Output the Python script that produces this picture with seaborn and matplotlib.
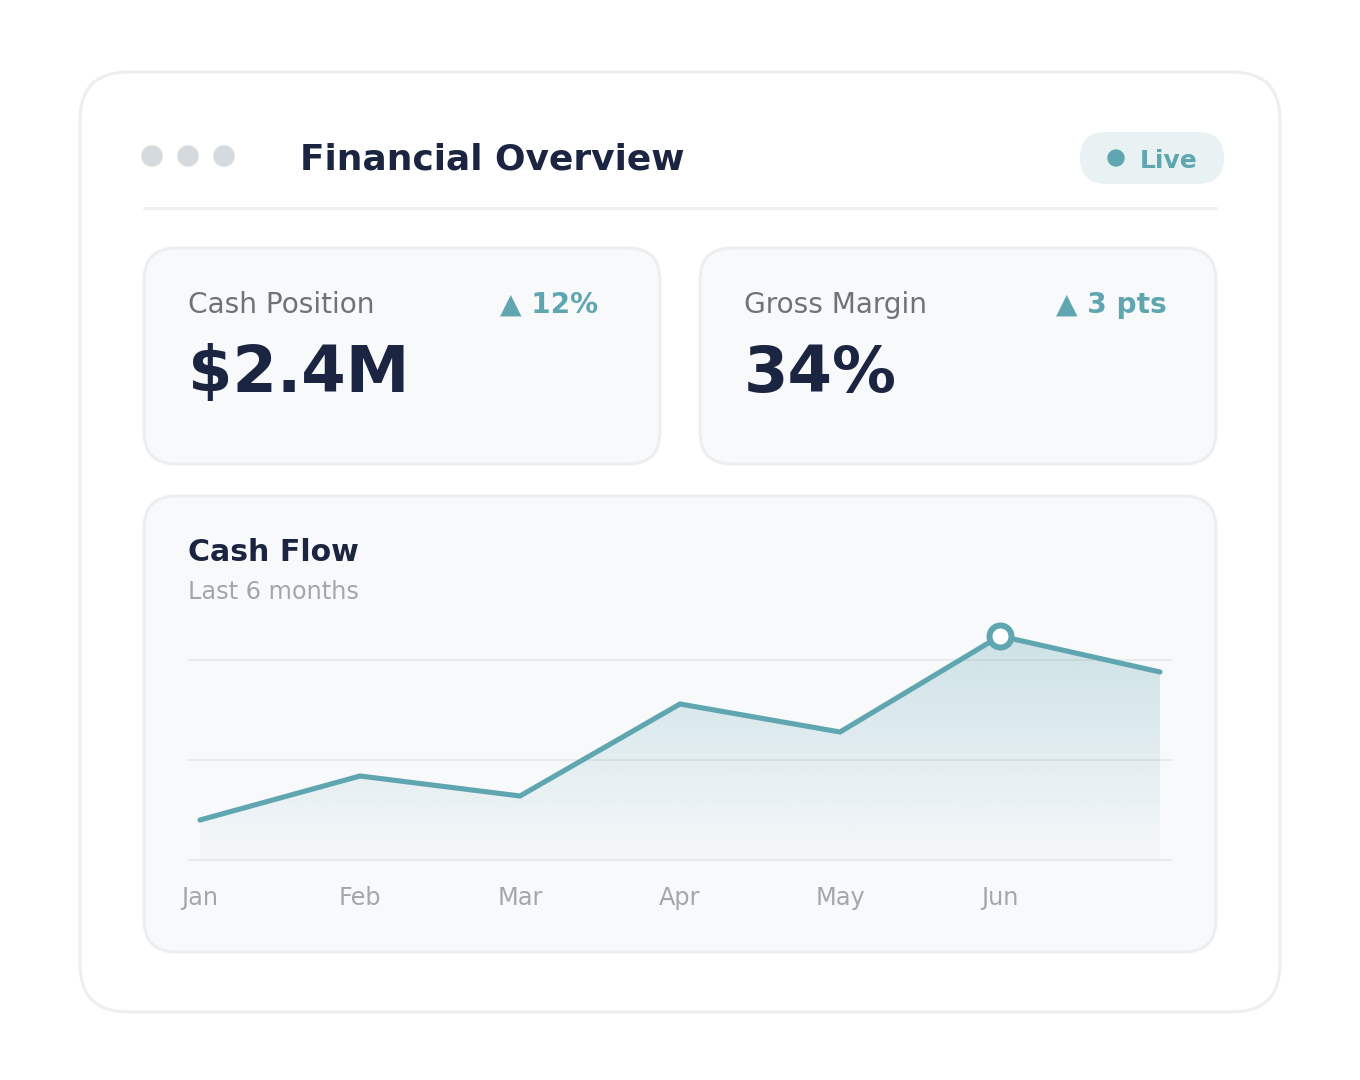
import numpy as np
import pandas as pd
import matplotlib
matplotlib.use("Agg")
import matplotlib.pyplot as plt
from matplotlib.patches import FancyBboxPatch, Circle
import seaborn as sns

# Data
months = ["Jan", "Feb", "Mar", "Apr", "May", "Jun"]
cash_flow = [20, 42, 32, 78, 64, 112, 94]   # 7 points, last one unlabeled
highlight_idx = 5
grid_levels = [0, 50, 100]

kpi_labels = ["Cash Position", "Gross Margin"]
kpi_values = ["$2.4M", "34%"]
kpi_deltas = ["▲ 12%", "▲ 3 pts"]

# Colours
NAVY = "#1b2541"
TEAL = "#5fa6b0"
GREY = "#707376"
LIGHT = "#a4a6a9"
CARD = "#f8f9fb"
EDGE = "#eceef0"

sns.set_theme(style="white")
plt.rcParams["font.family"] = ["DejaVu Sans"]

fig = plt.figure(figsize=(13.6, 10.8), dpi=100)
fig.patch.set_facecolor("white")

# Background layer in pixel coordinates
bg = fig.add_axes([0, 0, 1, 1])
bg.set_xlim(0, 1360)
bg.set_ylim(1080, 0)
bg.axis("off")


def card(x0, y0, x1, y1, r, face, edge, lw=2.2):
    p = FancyBboxPatch((x0, y0), x1 - x0, y1 - y0,
                       boxstyle=f"round,pad=0,rounding_size={r}",
                       facecolor=face, edgecolor=edge, linewidth=lw)
    bg.add_patch(p)


def px(v):
    return v * 0.72


card(80, 72, 1280, 1012, 48, "white", EDGE)

# window dots + title
for cx in (152, 188, 224):
    bg.add_patch(Circle((cx, 156), 10, color="#d5dadf"))
bg.text(300, 169, "Financial Overview", fontsize=px(36), fontweight="bold",
        color=NAVY, va="baseline")

# live badge
card(1080, 132, 1224, 184, 26, "#e8f2f3", "none", lw=0)
bg.add_patch(Circle((1116, 158), 8, color=TEAL))
bg.text(1140, 168, "Live", fontsize=px(25), fontweight="bold", color=TEAL,
        va="baseline")

bg.plot([144, 1216], [208, 208], color="#eef0f2", lw=2.2)

# KPI cards
for i, (lab, val, dlt) in enumerate(zip(kpi_labels, kpi_values, kpi_deltas)):
    x0 = 144 + i * 556
    card(x0, 248, x0 + 516, 464, 32, CARD, EDGE)
    bg.text(x0 + 44, 313, lab, fontsize=px(28), color=GREY, va="baseline")
    bg.text(x0 + 356, 313, dlt, fontsize=px(28), fontweight="bold",
            color=TEAL, va="baseline")
    bg.text(x0 + 44, 392, val, fontsize=px(64), fontweight="bold",
            color=NAVY, va="baseline")

# Chart card
card(144, 496, 1216, 952, 32, CARD, EDGE)
bg.text(188, 561, "Cash Flow", fontsize=px(30), fontweight="bold",
        color=NAVY, va="baseline")
bg.text(188, 599, "Last 6 months", fontsize=px(24), color=LIGHT,
        va="baseline")

# Line chart axes: x 188..1172 px, y 600..880 px
ax = fig.add_axes([188 / 1360, 1 - 880 / 1080, 984 / 1360, 280 / 1080])
ax.patch.set_alpha(0)
df = pd.DataFrame({"idx": np.arange(len(cash_flow)), "value": cash_flow})
n = len(cash_flow) - 1
ax.set_xlim(-12 / 160, n + 12 / 160)
ax.set_ylim(-10, 130)

for g in grid_levels:
    ax.axhline(g, color="#e4e7ea", lw=1.1, zorder=1)

# gradient fill under the line
poly = ax.fill_between(df["idx"], df["value"], 0, color="none", lw=0)
grad = np.linspace(0.28, 0.02, 256).reshape(-1, 1)
rgba = np.zeros((256, 1, 4))
rgba[..., :3] = matplotlib.colors.to_rgb(TEAL)
rgba[..., 3] = grad
im = ax.imshow(rgba, extent=[0, n, 0, max(cash_flow)], aspect="auto",
               origin="upper", zorder=2)
im.set_clip_path(poly.get_paths()[0], transform=ax.transData)

sns.lineplot(data=df, x="idx", y="value", ax=ax, color=TEAL, linewidth=3.7,
             solid_capstyle="round", solid_joinstyle="miter", zorder=3)
ax.plot(highlight_idx, cash_flow[highlight_idx], "o", ms=px(22), mew=px(6),
        mfc="white", mec=TEAL, zorder=4)

ax.set_xticks(range(len(months)))
ax.set_xticklabels(months, fontsize=px(24), color=LIGHT)
ax.tick_params(axis="x", length=0, pad=4.2)
ax.set_yticks([])
ax.set_xlabel("")
ax.set_ylabel("")
sns.despine(ax=ax, left=True, bottom=True)

fig.savefig("out.png", dpi=100, facecolor="white")
